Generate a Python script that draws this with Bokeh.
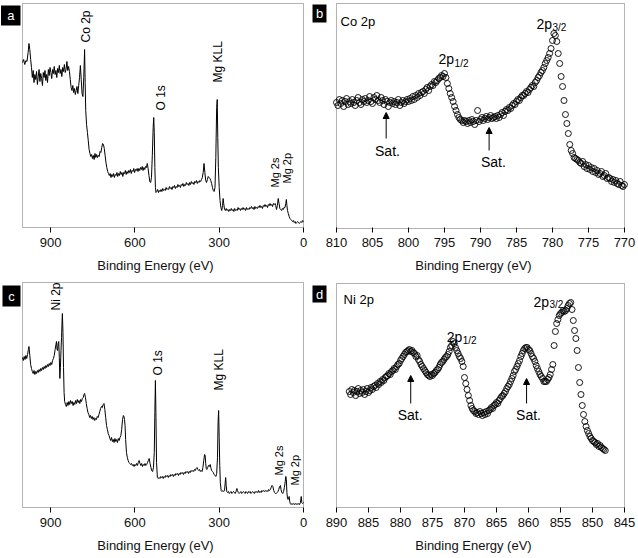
import numpy as np
from bokeh.plotting import figure
from bokeh.layouts import column, row
from bokeh.models import Arrow, NormalHead, FixedTicker, Range1d, BoxAnnotation
from bokeh.core.properties import value
from bokeh.embed import file_html
from bokeh.resources import INLINE

FONT = "Liberation Sans"

# ---------------- data ----------------
# (a) survey spectrum, Co sample: (binding energy eV, intensity a.u.)
survey_a = [
    (1000,165),(996,168),(992,163),(988,167),(984,166),(980,175),(977,184),(974,178),(971,168),(968,160),
    (965,150),(962,157),(959,145),(956,153),(953,148),(950,156),(947,143),(944,151),(941,158),(938,146),
    (935,154),(932,149),(929,142),(926,155),(923,150),(920,157),(917,147),(914,153),(911,145),(908,158),
    (905,152),(902,160),(899,155),(896,149),(893,158),(890,154),(887,161),(884,153),(881,157),(878,150),
    (875,159),(872,155),(869,162),(866,154),(863,158),(860,151),(857,160),(854,156),(851,163),(848,155),
    (845,158),(842,166),(839,157),(836,161),(833,156),(830,148),(827,140),(824,137),(821,142),(818,135),
    (815,139),(812,133),(809,137),(806,141),(803,134),(800,142),(797,150),(794,162),(791,148),(788,134),
    (785,131),(782,150),(779,178),(777,145),(775,117),(772,103),(769,95),(766,87),(763,78),(760,74),
    (757,71),(754,73),(751,69),(748,72),(745,68),(742,74),(739,70),(736,73),(733,70),(730,72),
    (727,71),(724,76),(721,75),(718,80),(715,84),(712,83),(709,79),(706,72),(703,65),(700,60),
    (697,56),(694,54),(691,52),(688,54),(685,50),(682,53),(679,51),(676,54),(673,50),(670,53),
    (667,52),(664,55),(661,51),(658,54),(655,52),(652,56),(649,53),(646,55),(643,51),(640,55),
    (637,54),(634,57),(631,53),(628,56),(625,54),(622,57),(619,55),(616,58),(613,54),(610,57),
    (607,56),(604,59),(601,55),(598,58),(595,57),(592,59),(589,56),(586,59),(583,57),(580,60),
    (577,58),(574,61),(571,57),(568,60),(565,58),(562,61),(559,60),(556,64),(553,59),(550,52),
    (547,46),(544,45),(541,50),(538,72),(535,100),(533,110),(531,95),(529,60),(527,40),(525,35),
    (522,36),(519,38),(516,35),(513,37),(510,36),(507,38),(504,36),(501,39),(498,37),(495,38),
    (492,37),(489,40),(486,38),(483,39),(480,38),(477,41),(474,39),(471,40),(468,38),(465,41),
    (462,40),(459,42),(456,39),(453,41),(450,40),(447,43),(444,41),(441,42),(438,40),(435,43),
    (432,42),(429,44),(426,41),(423,43),(420,42),(417,45),(414,43),(411,44),(408,42),(405,45),
    (402,43),(399,46),(396,44),(393,45),(390,43),(387,46),(384,45),(381,47),(378,44),(375,46),
    (372,45),(369,47),(366,46),(363,48),(360,50),(357,55),(354,64),(351,55),(348,47),(345,45),
    (342,48),(339,51),(336,50),(333,49),(330,47),(327,44),(324,40),(321,37),(318,36),(315,40),
    (312,70),(309,120),(307,128),(305,90),(303,60),(300,40),(297,27),(294,20),(291,17),(288,22),
    (286,29),(284,24),(281,18),(278,17),(275,19),(272,17),(269,18),(266,16),(263,18),(260,17),
    (257,19),(254,17),(251,18),(248,16),(245,19),(242,17),(239,18),(236,17),(233,20),(230,18),
    (227,19),(224,17),(221,19),(218,18),(215,20),(212,18),(209,19),(206,17),(203,20),(200,18),
    (197,19),(194,18),(191,20),(188,19),(185,21),(182,19),(179,20),(176,18),(173,21),(170,19),
    (167,20),(164,19),(161,21),(158,20),(155,22),(152,20),(149,21),(146,19),(143,22),(140,21),
    (137,23),(134,21),(131,22),(128,20),(125,23),(122,22),(119,24),(116,22),(113,23),(110,21),
    (107,24),(104,23),(101,24),(99,22),(96,18),(93,22),(90,29),(87,24),(84,19),(81,18),
    (78,17),(75,19),(72,18),(69,20),(66,20),(63,24),(61,28),(59,22),(57,17),(54,14),
    (51,11),(48,9),(45,8),(42,7),(39,6),(36,7),(33,5),(30,6),(27,4),(24,5),
    (21,6),(18,5),(15,4),(12,5),(9,6),(6,5),(3,7),(0,6),
]

# (c) survey spectrum, Ni sample
survey_c = [
    (1000,150),(997,147),(994,151),(991,148),(988,152),(985,149),(982,153),(979,158),(977,161),(974,152),
    (971,143),(968,139),(965,136),(962,134),(959,137),(956,133),(953,136),(950,134),(947,137),(944,135),
    (941,138),(938,136),(935,139),(932,137),(929,140),(926,138),(923,141),(920,139),(917,142),(914,140),
    (911,143),(908,141),(905,144),(902,142),(899,145),(896,143),(893,147),(890,149),(887,152),(884,158),
    (881,163),(879,166),(877,158),(875,157),(873,164),(871,166),(869,150),(867,129),(865,140),(863,157),
    (861,170),(859,188),(858,194),(856,175),(854,140),(852,115),(850,106),(847,103),(844,101),(841,105),
    (838,102),(835,106),(832,103),(829,107),(826,104),(823,106),(820,102),(817,105),(814,103),(811,107),
    (808,104),(805,108),(802,105),(799,107),(796,104),(793,108),(790,106),(787,109),(784,110),(781,113),
    (779,114),(776,110),(773,104),(770,99),(767,95),(764,93),(761,90),(758,92),(755,89),(752,91),
    (749,88),(746,90),(743,87),(740,89),(737,88),(734,91),(731,90),(728,93),(725,96),(722,99),
    (719,101),(716,100),(713,103),(710,104),(707,98),(704,90),(701,82),(698,78),(695,74),(692,72),
    (689,69),(686,67),(683,70),(680,66),(677,68),(674,65),(671,69),(668,66),(665,68),(662,65),
    (659,69),(656,67),(653,70),(650,72),(647,78),(644,88),(641,92),(639,91),(637,88),(635,82),
    (633,68),(630,55),(627,50),(624,47),(621,45),(618,44),(615,43),(612,44),(609,42),(606,43),
    (603,41),(600,43),(597,42),(594,44),(591,42),(588,45),(585,47),(582,44),(579,42),(576,44),
    (573,41),(570,43),(567,42),(564,44),(561,42),(558,43),(555,45),(552,47),(549,49),(546,44),
    (543,40),(540,37),(537,36),(534,40),(531,55),(529,95),(527,127),(525,90),(523,45),(520,30),
    (517,29),(514,30),(511,29),(508,31),(505,30),(502,31),(499,29),(496,31),(493,30),(490,32),
    (487,31),(484,32),(481,30),(478,32),(475,31),(472,33),(469,32),(466,33),(463,31),(460,33),
    (457,32),(454,34),(451,33),(448,34),(445,32),(442,34),(439,33),(436,35),(433,34),(430,35),
    (427,33),(424,35),(421,34),(418,36),(415,35),(412,36),(409,34),(406,36),(403,35),(400,37),
    (397,36),(394,37),(391,36),(388,38),(385,37),(382,39),(379,40),(376,38),(373,37),(370,38),
    (367,36),(364,37),(361,36),(358,40),(355,47),(352,53),(350,52),(348,44),(346,39),(344,38),
    (341,40),(338,42),(335,41),(332,43),(330,40),(327,37),(324,36),(321,35),(318,33),(315,32),
    (312,31),(309,34),(306,50),(304,85),(302,97),(300,70),(298,42),(296,25),(293,17),(290,16),
    (287,17),(284,16),(281,17),(279,24),(277,30),(275,22),(273,16),(270,15),(267,16),(264,14),
    (261,15),(258,16),(255,14),(252,15),(249,16),(246,15),(243,14),(240,16),(237,19),(235,17),
    (232,15),(229,14),(226,15),(223,16),(220,14),(217,15),(214,16),(211,15),(208,14),(205,16),
    (202,15),(199,14),(196,16),(193,15),(190,16),(187,14),(184,15),(181,16),(178,15),(175,14),
    (172,16),(169,15),(166,16),(163,15),(160,17),(157,15),(154,16),(151,15),(148,17),(145,16),
    (142,17),(139,16),(136,17),(133,16),(130,17),(127,16),(124,18),(121,17),(118,18),(115,20),
    (112,22),(109,21),(106,17),(103,15),(100,14),(97,14),(94,15),(91,16),(88,18),(85,21),
    (82,22),(80,18),(77,15),(74,14),(71,16),(68,20),(65,26),(63,31),(61,28),(59,15),
    (57,9),(55,8),(53,10),(51,11),(49,6),(47,4),(44,3),(41,4),(38,3),(35,4),
    (32,3),(29,4),(26,3),(23,4),(20,3),(17,4),(14,3),(11,5),(8,11),(6,5),(3,4),(0,5),
]

# (b) Co 2p high-resolution, 0.2 eV steps from 810.0 eV downwards
b_start, b_step = 810.0, 0.2
b_int = [
    126,123,129,125,128,122,127,130,124,127, 125,129,126,123,128,131,126,124,129,127,
    130,126,128,132,127,125,131,129,133,128, 126,131,128,124,129,127,122,126,128,125,
    127,124,126,129,123,126,128,125,127,129, 127,130,128,132,129,133,131,135,133,136,
    137,135,139,141,138,142,144,143,147,146, 148,150,151,153,152,155,151,145,140,135,
    131,127,122,118,114,111,109,108,106,108, 107,105,108,106,109,107,104,108,118,107,
    109,111,108,110,112,109,111,113,110,111, 112,110,113,111,114,116,113,117,119,118,
    121,120,123,125,124,127,129,128,131,133, 133,135,137,136,139,141,143,142,146,148,
    151,153,156,158,161,165,168,171,175,180, 188,195,193,187,175,165,152,142,128,114,
    105,95,84,78,75,71,70,69,68,66, 65,67,62,64,60,63,59,61,57,60,
    56,58,54,55,57,52,53,55,50,51, 50,47,49,46,48,45,44,47,43,42,44,
]

# (d) Ni 2p high-resolution, 0.2 eV steps from 888.0 eV downwards
d_start, d_step = 888.0, 0.2
d_int = [
    116,113,118,115,117,112,116,119,114,117, 115,118,113,116,119,115,117,120,118,121,
    122,120,124,123,126,125,128,127,130,131, 132,134,133,136,137,139,138,141,143,144,
    147,149,151,153,155,156,157,158,156,157, 155,154,151,152,148,146,143,141,139,137,
    135,133,132,131,133,132,134,135,137,138, 140,143,145,146,148,150,151,153,156,160,
    162,166,164,160,157,154,151,149,146,141, 130,124,118,112,107,102,99,97,96,94,
    95,93,96,94,92,95,93,96,94,97, 98,100,99,102,103,105,104,107,109,111,
    112,114,116,119,121,123,126,129,132,136, 138,141,144,147,151,154,157,159,160,160,
    158,157,154,151,149,146,142,139,136,133, 131,129,126,126,126,128,130,133,138,143,
    162,176,184,188,192,194,195,197,196,197, 199,202,204,205,198,187,177,169,157,140,
    125,113,102,93,86,81,77,74,71,69, 67,66,65,63,64,61,62,60,59,58,57,
]

survey_ticks = [900, 600, 300, 0]
b_ticks = [810, 805, 800, 795, 790, 785, 780, 775, 770]
d_ticks = [890, 885, 880, 875, 870, 865, 860, 855, 850, 845]

# survey peak labels: (text, eV, bottom intensity, font size)
a_labels = [("Co 2p", 775, 185, "12px"), ("O 1s", 507, 117, "12px"), ("Mg KLL", 304, 145, "12px"),
            ("Mg 2s", 100, 40, "11px"), ("Mg 2p", 57, 44, "11px")]
c_labels = [("Ni 2p", 882, 197, "12px"), ("O 1s", 518, 132, "12px"), ("Mg KLL", 300, 117, "12px"),
            ("Mg 2s", 86, 32, "11px"), ("Mg 2p", 29, 22, "11px")]


def style(p, ticks):
    p.outline_line_color = None
    p.grid.grid_line_color = None
    ax = p.xaxis[0]
    ax.ticker = FixedTicker(ticks=ticks)
    ax.axis_label = "Binding Energy (eV)"
    ax.axis_label_text_font = FONT
    ax.axis_label_text_font_size = "13px"
    ax.axis_label_text_font_style = "normal"
    ax.axis_label_text_color = "#111111"
    ax.axis_label_standoff = 8
    ax.major_label_text_font = FONT
    ax.major_label_text_font_size = "13px"
    ax.major_label_text_color = "#111111"
    ax.major_label_standoff = 5
    ax.major_tick_out = 3
    ax.major_tick_in = 2
    ax.minor_tick_line_color = None
    ax.axis_line_color = None
    ax.major_tick_line_color = "black"


def make_fig(w, h, xr, yr, ticks, bb, box):
    p = figure(width=w, height=h, x_range=Range1d(*xr), y_range=Range1d(*yr),
               toolbar_location=None, output_backend="svg", y_axis_location=None,
               min_border_left=0, min_border_right=0, min_border_top=0, min_border_bottom=bb,
               background_fill_color="white", border_fill_color="white")
    style(p, ticks)
    l, r, b, t = box
    p.add_layout(BoxAnnotation(left=l, right=r, bottom=b, top=t, fill_color=None,
                               fill_alpha=0, line_color="black", line_width=1))
    return p


def panel_tag(p, txt, l, r, b, t, fs):
    p.add_layout(BoxAnnotation(left=l, right=r, bottom=b, top=t, fill_color="black",
                               fill_alpha=1.0, line_color=None, level="underlay"))
    p.text(x=[(l + r) / 2], y=[(b + t) / 2], text=[txt], text_align="center",
           text_baseline="middle", text_font=value(FONT), text_font_size=fs,
           text_color="white")


def survey(p, pts, labels):
    be = [q[0] for q in pts]
    it = [q[1] for q in pts]
    p.line(be, it, line_color="black", line_width=1)
    for txt, x, y, fs in labels:
        p.text(x=[x], y=[y], text=[txt], angle=np.pi / 2, text_align="left",
               text_baseline="middle", text_font=value(FONT), text_font_size=fs,
               text_color="black")


def sub_label(p, x, y, xs, ys, sub):
    p.text(x=[x], y=[y], text=["2p"], text_align="left", text_baseline="alphabetic",
           text_font=value(FONT), text_font_size="14px", text_color="black")
    p.text(x=[xs], y=[ys], text=[sub], text_align="left", text_baseline="alphabetic",
           text_font=value(FONT), text_font_size="10px", text_color="black")


def sat(p, x_txt, y_txt, x_arr, y0, y1):
    p.text(x=[x_txt], y=[y_txt], text=["Sat."], text_align="center", text_baseline="top",
           text_font=value(FONT), text_font_size="14px", text_color="black")
    p.add_layout(Arrow(end=NormalHead(size=6, fill_color="black", line_color="black", line_width=1),
                       x_start=x_arr, y_start=y0, x_end=x_arr, y_end=y1,
                       line_color="black", line_width=1))


def spectrum(p, start, step, vals):
    be = np.round(start - step * np.arange(len(vals)), 2)
    p.scatter(be, vals, marker="circle", size=6, fill_color=None,
              line_color="black", line_width=0.9)


# ---------------- panels ----------------
pa = make_fig(310, 280, (1078.29, -24.91), (-2, 227), survey_ticks, 51, (1000, 0, 0, 224))
survey(pa, survey_a, a_labels)
panel_tag(pa, "a", 1076.5, 1007.1, 202, 222, "13px")

pb = make_fig(326, 280, (813.61, 768.33), (-1, 228), b_ticks, 51, (810, 770, 0, 225))
spectrum(pb, b_start, b_step, b_int)
pb.text(x=[809.44], y=[215], text=["Co 2p"], text_align="left", text_baseline="top",
        text_font=value(FONT), text_font_size="13px", text_color="black")
sub_label(pb, 782.22, 205, 780.0, 201, "3/2")
sub_label(pb, 795.83, 170, 793.6, 165, "1/2")
sat(pb, 802.92, 86, 803.1, 90, 116)
sat(pb, 788.2, 75, 788.8, 78, 101)
panel_tag(pb, "b", 813.33, 811.39, 206, 224, "13px")

pc = make_fig(310, 277, (1078.29, -24.91), (-2, 227), survey_ticks, 48, (1000, 0, 0, 225))
survey(pc, survey_c, c_labels)
panel_tag(pc, "c", 1071.2, 1007.1, 201, 222, "13px")

pd = make_fig(326, 277, (894.06, 843.125), (-2, 227), d_ticks, 48, (890, 845, 0, 224))
spectrum(pd, d_start, d_step, d_int)
pd.text(x=[888.9], y=[216], text=["Ni 2p"], text_align="left", text_baseline="top",
        text_font=value(FONT), text_font_size="13px", text_color="black")
sub_label(pd, 859.22, 206, 856.72, 203, "3/2")
sub_label(pd, 872.77, 171, 870.27, 167, "1/2")
sat(pd, 878.5, 101, 878.4, 104, 132)
sat(pd, 860.0, 101, 860.3, 104, 129)
panel_tag(pd, "d", 893.75, 891.56, 205, 222, "13px")

layout = column(row(pa, pb), row(pc, pd))
open("out.html", "w").write(file_html(layout, INLINE))
